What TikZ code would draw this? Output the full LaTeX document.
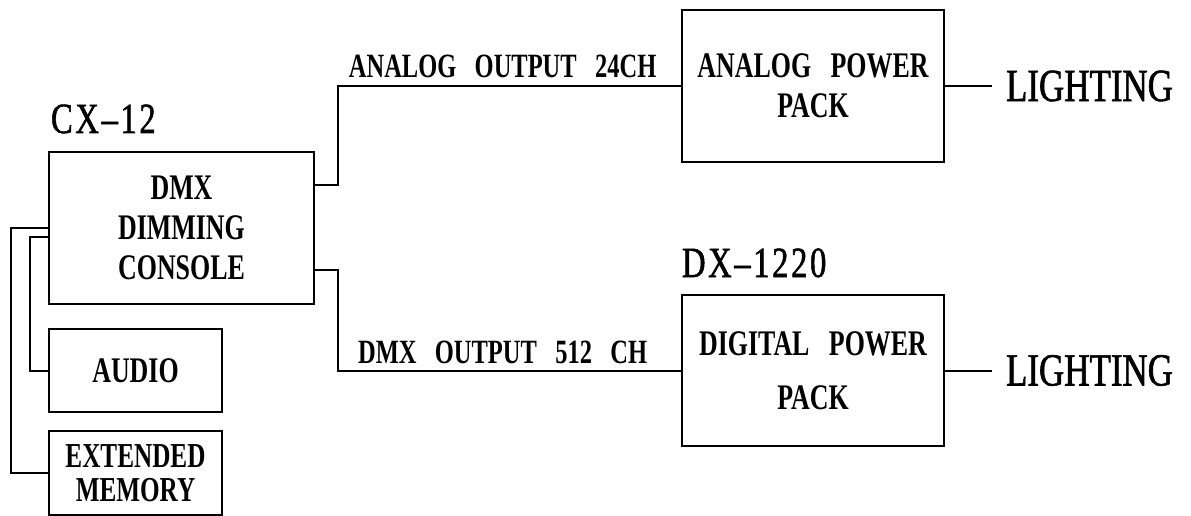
\documentclass[tikz,border=0pt]{standalone}
\usepackage{fontspec}
\newfontfamily\boxfont[FakeStretch=0.72,WordSpace=3]{Liberation Serif Bold}
\newfontfamily\titlefont[FakeStretch=0.76,LetterSpace=6,FakeBold=1.2]{Liberation Serif}
\newfontfamily\lampfont[FakeStretch=0.76,FakeBold=1.2]{Liberation Serif}
\usetikzlibrary{calc}
\usetikzlibrary{positioning}

\begin{document}
\begin{tikzpicture}[x=1pt, y=-1pt, line width=2pt]
    \tikzstyle{unit}=[draw, align=center, inner sep=0pt,
      font={\boxfont\fontsize{36}{40}\selectfont}]
    \tikzstyle{wire}=[font={\boxfont\fontsize{34}{38}\selectfont}]
    \tikzstyle{title}=[inner sep=0pt, font={\titlefont\fontsize{43}{46}\selectfont}]
    \tikzstyle{lamp}=[inner xsep=13pt, inner ysep=0pt,
      font={\lampfont\fontsize{46}{48}\selectfont}]
    \useasboundingbox (0, 0) rectangle (1191, 516);

    % CX-12 console and its inputs
    \node[unit, minimum width=265pt, minimum height=152pt] (console) at (181.5, 228)
      {DMX\\DIMMING\\CONSOLE};
    \node[title, anchor=base west] (cx) at (50, 133) {CX–12};
    \node[unit, minimum width=173pt, minimum height=83pt] (audio) at (135.5, 370.5) {AUDIO};
    \node[unit, minimum width=173pt, minimum height=84pt,
      font={\boxfont\fontsize{35}{34}\selectfont}] (memory) at (135.5, 473)
      {EXTENDED\\MEMORY};
    \draw (console.west) -- ++(-37, 0) |- (memory.west);
    \draw ([yshift=-9pt]console.west) -- ++(-18, 0) |- (audio.west);

    % Power packs
    \node[unit, minimum width=262pt, minimum height=152pt] (analog) at (813, 86)
      {ANALOG POWER\\PACK};
    \node[unit, minimum width=262pt, minimum height=151pt] (digital) at (813, 370.5)
      {DIGITAL POWER\\[14pt]PACK};
    \node[title, anchor=base west] (dx) at (681, 277) {DX–1220};

    % Outputs
    \draw ([yshift=-34pt]console.north east) -- ++(23, 0) |- (analog.west)
      node[wire, above=4pt, pos=0.74] {ANALOG OUTPUT 24CH};
    \draw ([yshift=35pt]console.south east) -- ++(23, 0) |- (digital.west)
      node[wire, above=2pt, pos=0.74] {DMX OUTPUT 512 CH};

    % Lighting
    \node[lamp, anchor=west] (light1) at (992, 86) {LIGHTING};
    \node[lamp, anchor=west] (light2) at (992, 370.5) {LIGHTING};
    \draw (analog.east) -- (light1.west);
    \draw (digital.east) -- (light2.west);
  \end{tikzpicture}
\end{document}
